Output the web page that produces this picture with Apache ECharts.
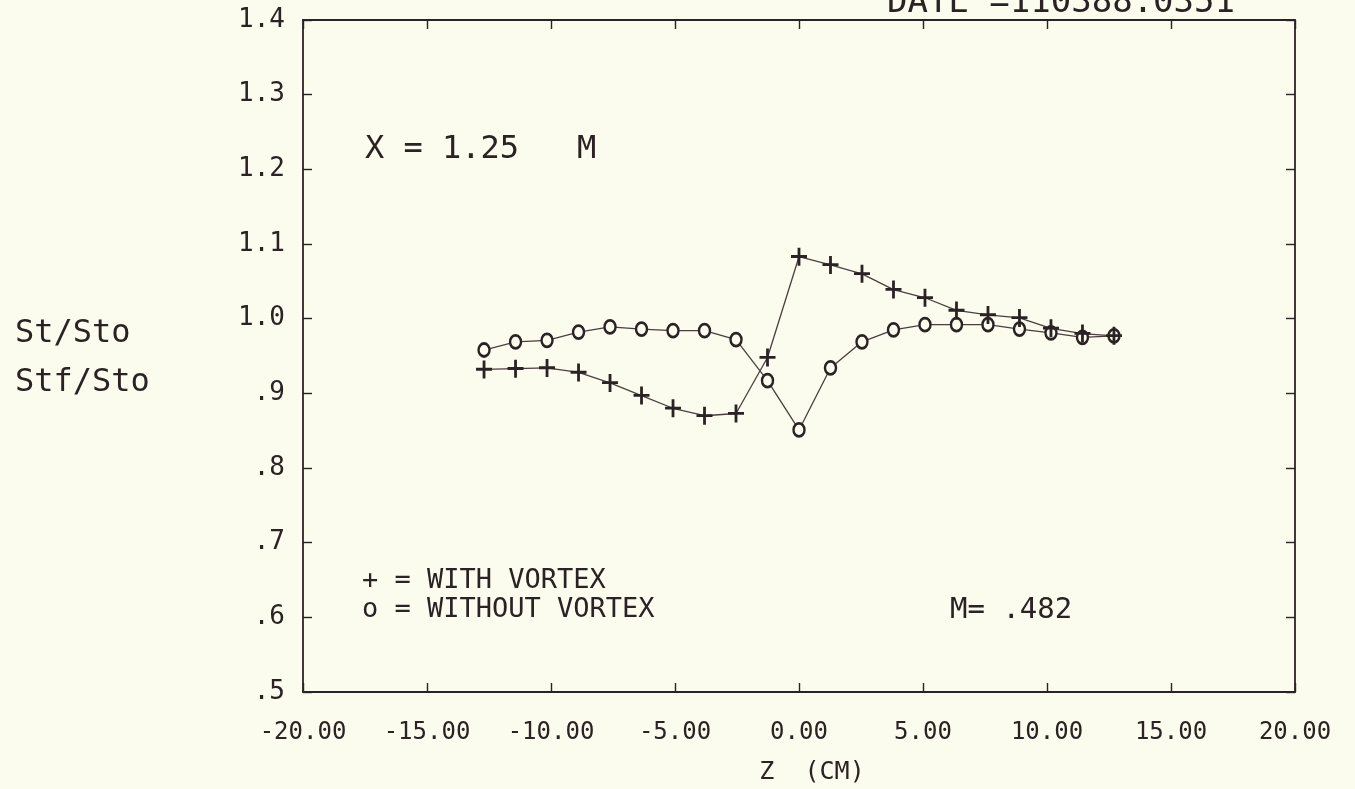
<!DOCTYPE html>
<html><head><meta charset="utf-8">
<script src="https://cdn.jsdelivr.net/npm/echarts/dist/echarts.min.js"></script>
<style>html,body{margin:0;padding:0;background:#fbfbee;} #c{width:1355px;height:789px;}</style>
</head><body><div id="c"></div>
<script>
// Z positions (cm), half-inch spacing
const zPositions = [-12.7, -11.43, -10.16, -8.89, -7.62, -6.35, -5.08, -3.81, -2.54, -1.27, 0,
                    1.27, 2.54, 3.81, 5.08, 6.35, 7.62, 8.89, 10.16, 11.43, 12.7];
// St/Sto with vortex (+)
const withVortex = [0.932, 0.933, 0.934, 0.928, 0.914, 0.897, 0.880, 0.870, 0.873, 0.948, 1.083,
                    1.072, 1.060, 1.039, 1.028, 1.011, 1.005, 1.001, 0.987, 0.980, 0.977];
// Stf/Sto without vortex (o)
const withoutVortex = [0.958, 0.969, 0.971, 0.982, 0.989, 0.986, 0.984, 0.984, 0.972, 0.917, 0.851,
                       0.934, 0.969, 0.985, 0.992, 0.992, 0.992, 0.986, 0.981, 0.975, 0.977];
const xRange = [-20, 20, 5];
const yRange = [0.5, 1.4, 0.1];

const ink = '#2b2323';
const lineInk = '#4a3f3f';
const bg = '#fbfbee';
const mono = 'DejaVu Sans Mono';

const pair = (xs, ys) => xs.map((x, i) => [x, ys[i]]);
const plusPath = 'path://M0,7.4 H16 V10.2 H0 Z M6.6,0 H9.4 V18 H6.6 Z';

const tickStyle = {show: true, inside: true, length: 9, lineStyle: {color: ink, width: 1.4}};
const lineStyleAxis = {show: true, onZero: false, lineStyle: {color: ink, width: 1.8}};

const chart = echarts.init(document.getElementById('c'), null, {renderer: 'canvas'});
chart.setOption({
  backgroundColor: bg,
  animation: false,
  grid: {left: 303, right: 60, top: 20, bottom: 97},
  xAxis: [
    {type: 'value', min: xRange[0], max: xRange[1], interval: xRange[2], position: 'bottom',
     axisLine: lineStyleAxis, axisTick: tickStyle, splitLine: {show: false},
     axisLabel: {formatter: v => v.toFixed(2), fontFamily: mono, fontSize: 24, color: ink, margin: 29}},
    {type: 'value', min: xRange[0], max: xRange[1], interval: xRange[2], position: 'top',
     axisLine: lineStyleAxis, axisTick: tickStyle, splitLine: {show: false}, axisLabel: {show: false}}
  ],
  yAxis: [
    {type: 'value', min: yRange[0], max: yRange[1], interval: yRange[2], position: 'left',
     axisLine: lineStyleAxis, axisTick: tickStyle, splitLine: {show: false},
     axisLabel: {formatter: v => v >= 0.999 ? v.toFixed(1) : '.' + Math.round(v * 10),
                 fontFamily: mono, fontSize: 26, color: ink, margin: 18}},
    {type: 'value', min: yRange[0], max: yRange[1], interval: yRange[2], position: 'right',
     axisLine: lineStyleAxis, axisTick: tickStyle, splitLine: {show: false}, axisLabel: {show: false}}
  ],
  series: [
    {name: 'WITHOUT VORTEX', type: 'line', data: pair(zPositions, withoutVortex),
     symbol: 'circle', symbolSize: [11, 13],
     itemStyle: {color: bg, borderColor: ink, borderWidth: 2.6},
     lineStyle: {color: lineInk, width: 1.3}, z: 3},
    {name: 'WITH VORTEX', type: 'line', data: pair(zPositions, withVortex),
     symbol: plusPath, symbolSize: [16, 18],
     itemStyle: {color: ink},
     lineStyle: {color: lineInk, width: 1.3}, z: 4}
  ],
  graphic: [
    {type: 'text', x: 1061, y: 20, style: {text: 'DATE =110388.0351', font: '34px "DejaVu Sans Mono"', fill: ink, textAlign: 'center', textVerticalAlign: 'bottom'}},
    {type: 'text', x: 15, y: 334, style: {text: 'St/Sto', font: '32px "DejaVu Sans Mono"', fill: ink, textVerticalAlign: 'middle'}},
    {type: 'text', x: 15, y: 383, style: {text: 'Stf/Sto', font: '32px "DejaVu Sans Mono"', fill: ink, textVerticalAlign: 'middle'}},
    {type: 'text', x: 365, y: 150, style: {text: 'X = 1.25   M', font: '32px "DejaVu Sans Mono"', fill: ink, textVerticalAlign: 'middle'}},
    {type: 'text', x: 362, y: 581, style: {text: '+ = WITH VORTEX', font: '27px "DejaVu Sans Mono"', fill: ink, textVerticalAlign: 'middle'}},
    {type: 'text', x: 362, y: 610, style: {text: 'o = WITHOUT VORTEX', font: '27px "DejaVu Sans Mono"', fill: ink, textVerticalAlign: 'middle'}},
    {type: 'text', x: 950, y: 610, style: {text: 'M= .482', font: '29px "DejaVu Sans Mono"', fill: ink, textVerticalAlign: 'middle'}},
    {type: 'text', x: 812, y: 772, style: {text: 'Z  (CM)', font: '25px "DejaVu Sans Mono"', fill: ink, textAlign: 'center', textVerticalAlign: 'middle'}}
  ]
});
</script></body></html>
